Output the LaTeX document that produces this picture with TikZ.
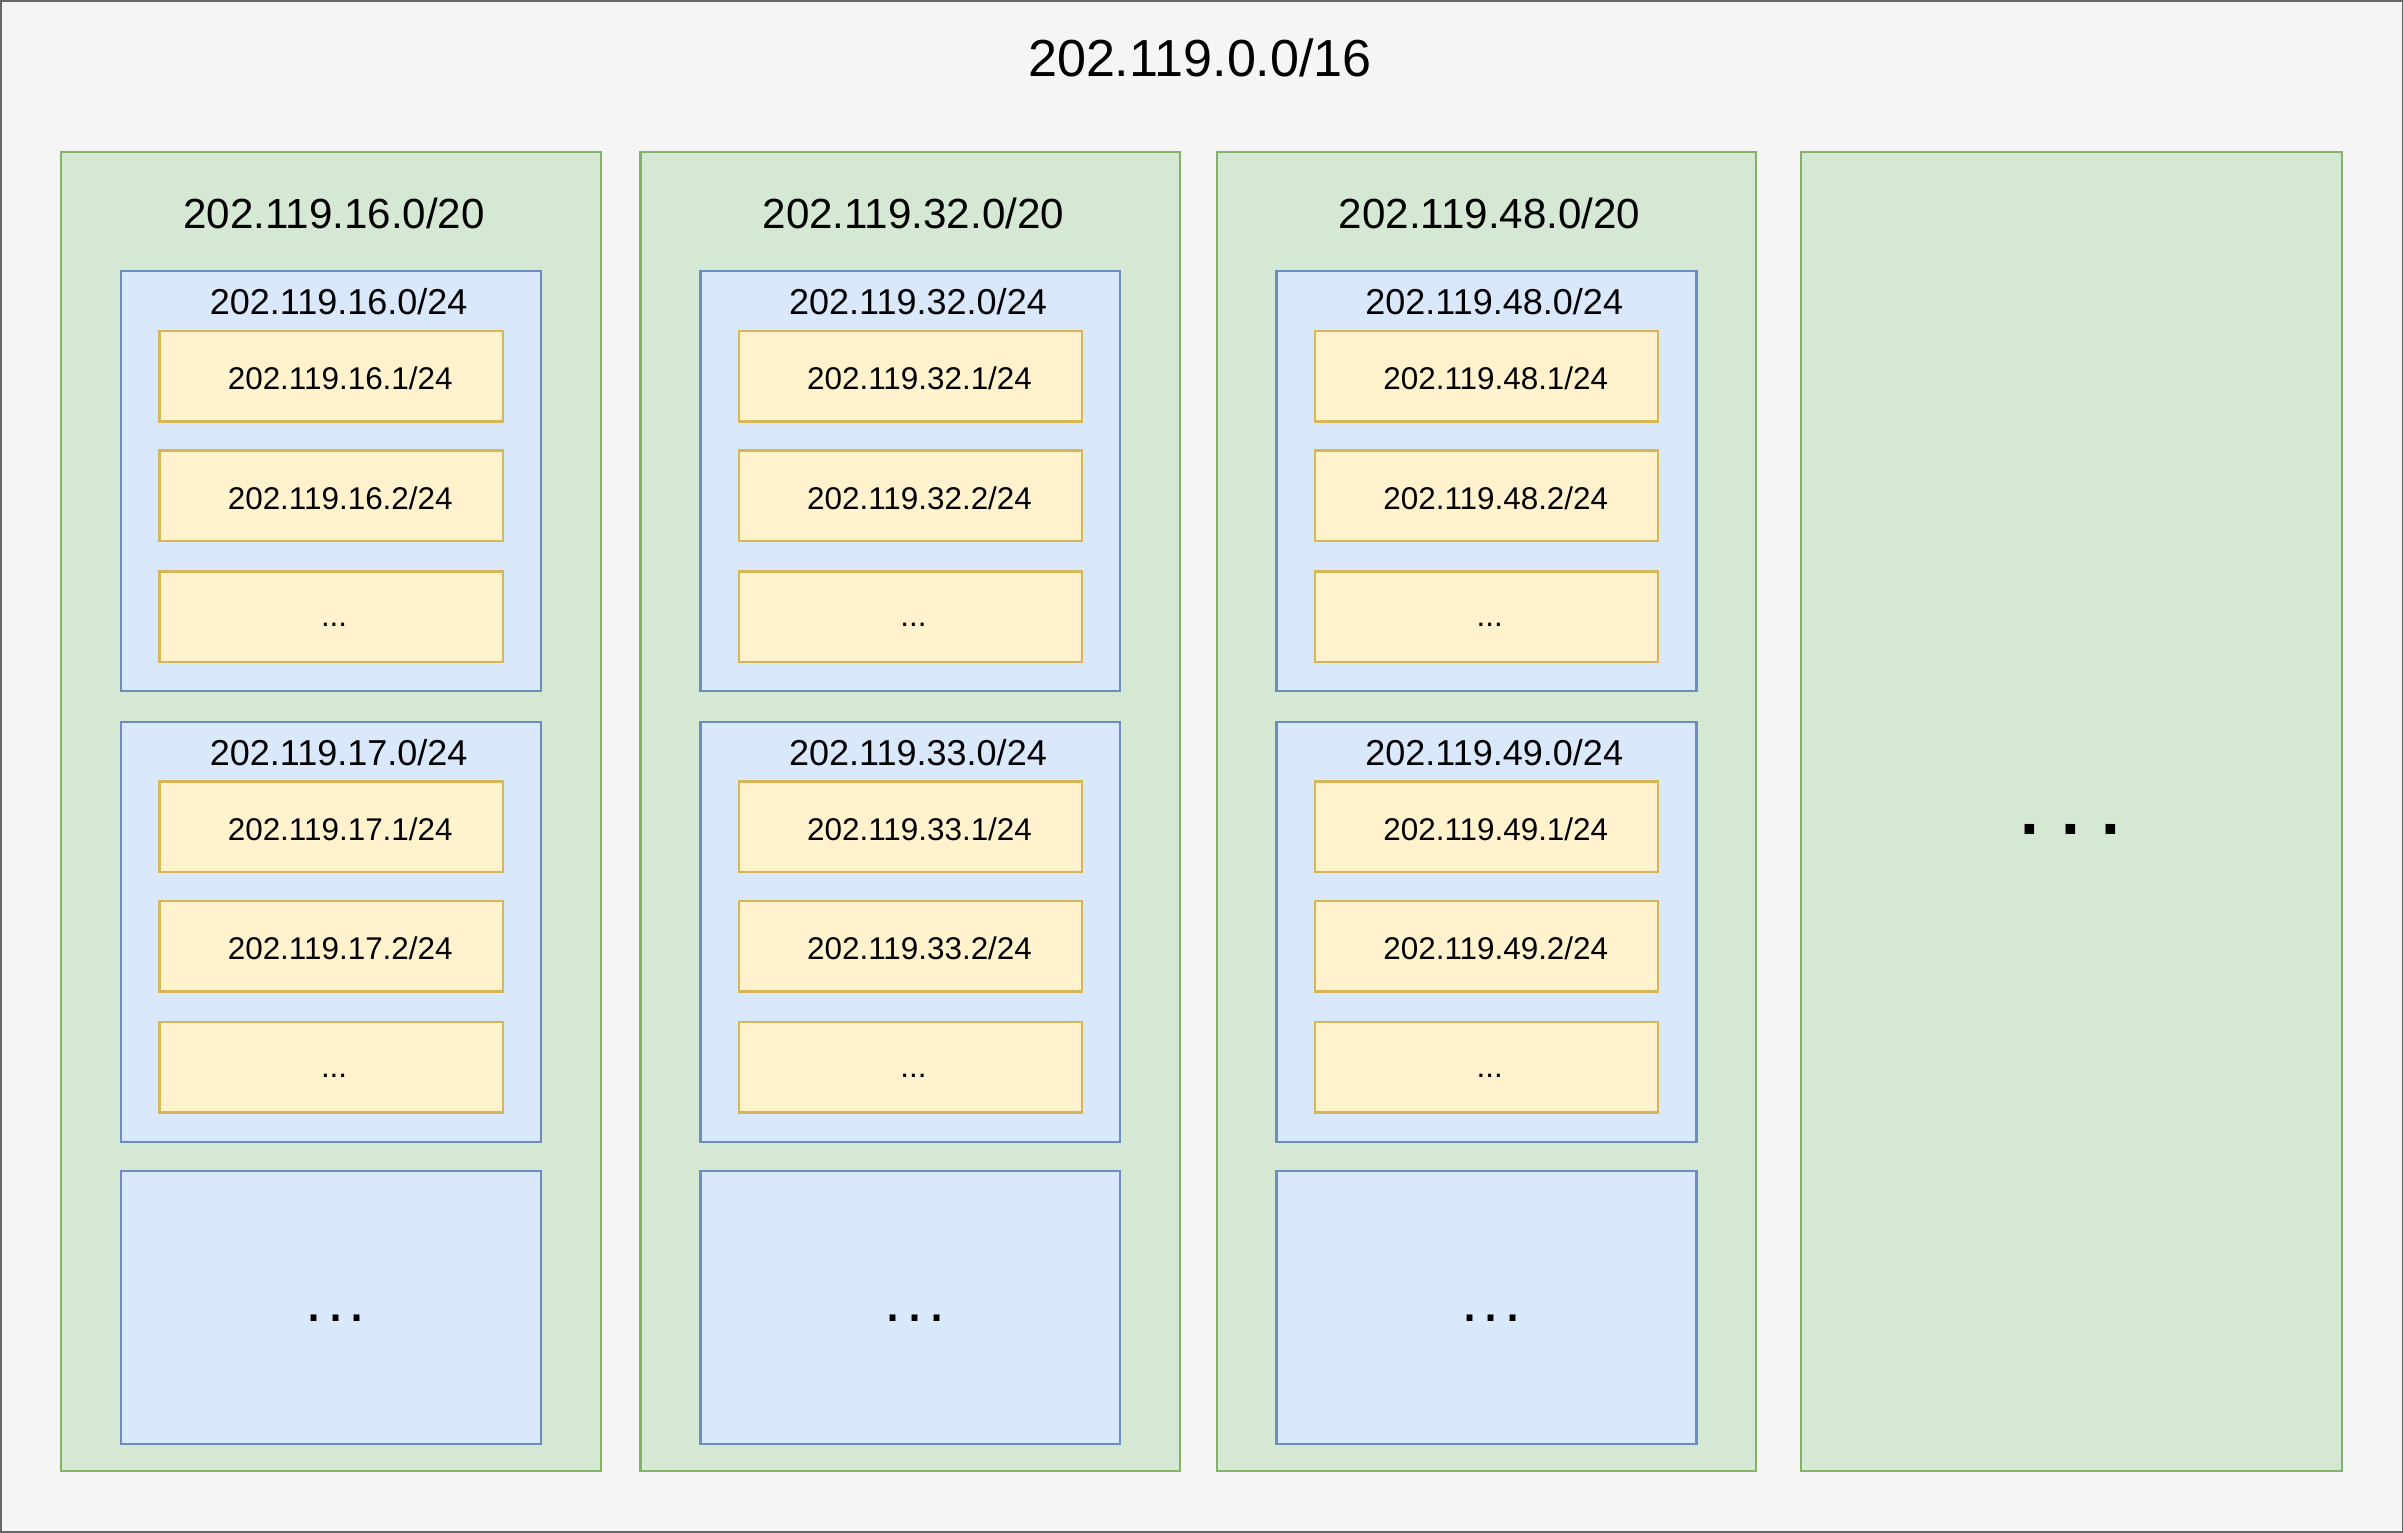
\documentclass[tikz,border=0pt]{standalone}
\usepackage{fontspec}
\setmainfont{Liberation Sans}
\definecolor{bgc}{HTML}{F5F5F5}
\definecolor{gfill}{HTML}{D5E8D4}\definecolor{gdraw}{HTML}{82B366}
\definecolor{bfill}{HTML}{DAE8FC}\definecolor{bdraw}{HTML}{6C8EBF}
\definecolor{yfill}{HTML}{FFF2CC}\definecolor{ydraw}{HTML}{D6B656}
\tikzset{
 colbox/.style={fill=gfill,draw=gdraw,line width=1.5pt},
 netbox/.style={fill=bfill,draw=bdraw,line width=1.5pt},
 hostbox/.style={fill=yfill,draw=ydraw,line width=1.5pt},
 lbl/.style={inner sep=0pt,anchor=center}
}
\begin{document}
\begin{tikzpicture}[x=1pt,y=-1pt]
\useasboundingbox (0,0) rectangle (1568,1000);
\fill[bgc,draw=gray!80!black,line width=2pt] (0,0) rectangle (1568,1000);
\node[lbl,font=\fontsize{34}{40}\selectfont] (title) at (783,38) {202.119.0.0/16};
\foreach \cx/\a/\b [count=\i] in {40/16/17,418/32/33,794/48/49}{
  \draw[colbox] (\cx,99) rectangle ++(352,861);
  \node[lbl,font=\fontsize{27.5}{32}\selectfont] (ct\i) at ({\cx+178},139) {202.119.\a.0/20};
  \foreach \n/\y [count=\j] in {\a/177,\b/471}{
    \draw[netbox] ({\cx+39},\y) rectangle ++(274,274);
    \node[lbl,font=\fontsize{23.5}{28}\selectfont] (nt\i\j) at ({\cx+181},{\y+20}) {202.119.\n.0/24};
    \foreach \h/\dy in {1/39,2/117}{
      \draw[hostbox] ({\cx+64},{\y+\dy}) rectangle ++(224,59);
      \node[lbl,font=\fontsize{20.5}{24}\selectfont] (h\i\j\h) at ({\cx+182},{\y+\dy+31}) {202.119.\n.\h/24};
    }
    \draw[hostbox] ({\cx+64},{\y+196}) rectangle ++(224,59);
    \node[lbl,font=\fontsize{20.5}{24}\selectfont] (hd\i\j) at ({\cx+178},{\y+231}) {...};
  }
  \draw[netbox] ({\cx+39},764) rectangle ++(274,178);
  \node[lbl,font=\fontsize{40}{46}\selectfont] (nd\i) at ({\cx+179},860) {.\kern3pt.\kern3pt.};
}
\draw[colbox] (1175,99) rectangle (1528,960);
\node[lbl,font=\bfseries\fontsize{44}{50}\selectfont] (cd) at (1351,541) {.\kern14pt.\kern14pt.};
\end{tikzpicture}
\end{document}
